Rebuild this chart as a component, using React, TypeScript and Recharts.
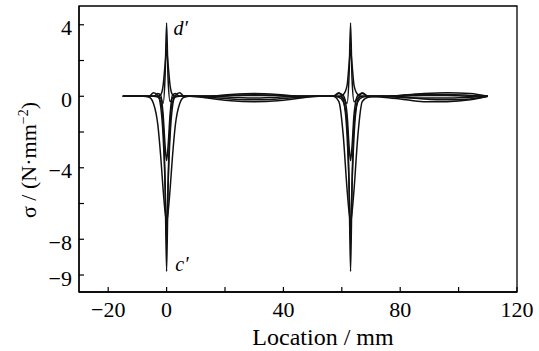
import { LineChart, Line, XAxis, YAxis, ReferenceArea, ReferenceDot } from 'recharts';

// location (mm) shared by every curve
const location = [
  -15, -8, -6, -4.5, -3, -2, -1.2, -0.5, 0, 0.5, 1.2, 2, 3, 4.5, 6, 8, 14, 22, 30, 38, 46, 52, 57,
  59, 60.5, 61.8, 62.5, 63, 63.5, 64.2, 65.5, 67, 69, 74, 80, 88, 96, 104, 110,
];

// stress curves, N/mm^2
const curveA = [
  0, 0, 0, 0, 0, -0.1, -0.4, 1.2, 4.1, 1.0, -0.3, -0.1, 0, 0, 0, 0, 0, 0.05, 0.08, 0.05, 0, 0, 0,
  0, -0.1, -0.4, 1.2, 4.1, 1.0, -0.3, -0.1, 0, 0, 0, 0.05, 0.1, 0.1, 0.05, 0,
];
const curveB = [
  0, 0, 0, 0, -0.05, -0.3, -1.5, -5, -9.8, -5, -1.5, -0.3, -0.05, 0, 0, 0, -0.05, -0.15, -0.2, -0.15, -0.05, 0, 0,
  -0.05, -0.3, -1.5, -5, -9.8, -5, -1.5, -0.3, -0.05, 0, 0, -0.05, -0.15, -0.2, -0.15, 0,
];
const curveC = [
  0, 0, 0, 0.2, 0.05, -0.6, -2.2, -5, -8.2, -5, -2.2, -0.6, 0.05, 0.2, 0, 0, -0.1, -0.25, -0.3, -0.25, -0.1, 0, 0,
  0.2, -0.2, -2.2, -5, -8.2, -5, -2.2, -0.2, 0.2, 0, -0.05, -0.15, -0.3, -0.3, -0.2, 0,
];
const curveD = [
  0, 0, -0.05, -0.4, -1.6, -3.4, -5.2, -6.5, -7.0, -6.5, -5.2, -3.4, -1.6, -0.4, -0.05, 0, 0, 0.1, 0.15, 0.1, 0, 0, 0,
  -0.3, -2.2, -5.2, -6.5, -7.0, -6.5, -5.2, -2.2, -0.3, -0.05, 0, 0.05, 0.15, 0.2, 0.15, 0,
];
const curveE = [
  0, 0, 0, 0, 0, 0.1, 0.6, 1.8, 2.6, 1.8, 0.6, 0.1, 0, 0, 0, 0, 0, -0.05, -0.1, -0.05, 0, 0, 0,
  0, 0.1, 0.6, 1.8, 2.6, 1.8, 0.6, 0.1, 0, 0, 0, -0.05, -0.1, -0.1, -0.05, 0,
];
const curveF = [
  0, 0, 0, 0, 0.15, 0.05, -1.0, -2.8, -3.6, -2.8, -1.0, 0.05, 0.15, 0, 0, 0, 0, 0.05, 0.05, 0.05, 0, 0, 0,
  0.15, 0.05, -1.0, -2.8, -3.6, -2.8, -1.0, 0.05, 0.15, 0, 0, 0, 0.05, 0.05, 0, 0,
];

const xTicks = [-20, 0, 20, 40, 60, 80, 100, 120];
const xTickLabels = ['−20', '0', '', '40', '', '80', '', '120'];
const yTicks = [4, 2, 0, -2, -4, -6, -8, -10];
const yTickLabels = ['4', '', '0', '', '−4', '', '−8', '−9'];

const curveKeys = ['a', 'b', 'c', 'd', 'e', 'f'];
const curves = [curveA, curveB, curveC, curveD, curveE, curveF];

const data = location.map((x, i) => {
  const row: Record<string, number> = { x };
  curveKeys.forEach((k, j) => (row[k] = curves[j][i]));
  return row;
});

const FONT = 'Liberation Serif';
const TICK_MARGIN = 4;

const XTick = (props: any) => {
  const { x, y, payload } = props;
  const idx = xTicks.indexOf(payload.value);
  const top = y - TICK_MARGIN;
  return (
    <g>
      <line x1={x} x2={x} y1={top} y2={top - 5} stroke="#000" strokeWidth={1.2} />
      <text x={x} y={y} dy={21} textAnchor="middle" fontFamily={FONT} fontSize={22} fill="#000">
        {xTickLabels[idx]}
      </text>
    </g>
  );
};

const YTick = (props: any) => {
  const { x, y, payload } = props;
  const idx = yTicks.indexOf(payload.value);
  const ax = x + 7;
  return (
    <g>
      <line x1={ax} x2={ax + 5} y1={y} y2={y} stroke="#000" strokeWidth={1.2} />
      <text x={x} y={y} dy={10.5} textAnchor="end" fontFamily={FONT} fontSize={22} fill="#000">
        {yTickLabels[idx]}
      </text>
    </g>
  );
};

const XTitle = (props: any) => {
  const vb = props.viewBox;
  return (
    <text
      x={vb.x + vb.width / 2 + 25}
      y={vb.y + 53}
      textAnchor="middle"
      fontFamily={FONT}
      fontSize={24}
      fill="#000"
    >
      Location / mm
    </text>
  );
};

const YTitle = (props: any) => {
  const vb = props.viewBox;
  const cx = vb.x + 36;
  const cy = vb.y + vb.height / 2 + 11;
  return (
    <text
      x={cx}
      y={cy}
      transform={`rotate(-90 ${cx} ${cy})`}
      textAnchor="middle"
      fontFamily={FONT}
      fontSize={22}
      fill="#000"
    >
      σ / (N·mm
      <tspan dy={-8} fontSize={14}>−2</tspan>
      <tspan dy={8}>)</tspan>
    </text>
  );
};

const Mark = (text: string) => (props: any) => {
  const vb = props.viewBox;
  return (
    <text x={vb.x} y={vb.y} fontFamily={FONT} fontStyle="italic" fontSize={20} fill="#000">
      {text}
    </text>
  );
};

export default function App() {
  return (
    <div style={{ position: 'absolute', left: 0, top: 0, background: '#fff' }}>
      <LineChart width={539} height={351} data={data} margin={{ top: 6, right: 22, bottom: 0, left: 0 }}>
        <XAxis
          type="number"
          dataKey="x"
          domain={[-30, 120]}
          ticks={xTicks}
          interval={0}
          tickSize={0}
          tickMargin={TICK_MARGIN}
          tick={<XTick />}
          height={59}
          axisLine={{ stroke: '#000', strokeWidth: 1.3 }}
          label={{ content: XTitle }}
        />
        <YAxis
          type="number"
          domain={[-10.95, 5.05]}
          ticks={yTicks}
          interval={0}
          tickSize={0}
          tickMargin={7}
          tick={<YTick />}
          width={79}
          axisLine={{ stroke: '#000', strokeWidth: 1.3 }}
          label={{ content: YTitle }}
        />
        <ReferenceArea x1={-30} x2={120} y1={-10.95} y2={5.05} fill="none" stroke="#000" strokeWidth={1.3} />
        {curveKeys.map((k) => (
          <Line
            key={k}
            type="monotone"
            dataKey={k}
            stroke="#111"
            strokeWidth={1.5}
            dot={false}
            isAnimationActive={false}
          />
        ))}
        <ReferenceDot x={2.4} y={3.4} r={0} label={{ content: Mark('d′') }} />
        <ReferenceDot x={3} y={-9.8} r={0} label={{ content: Mark('c′') }} />
      </LineChart>
    </div>
  );
}
